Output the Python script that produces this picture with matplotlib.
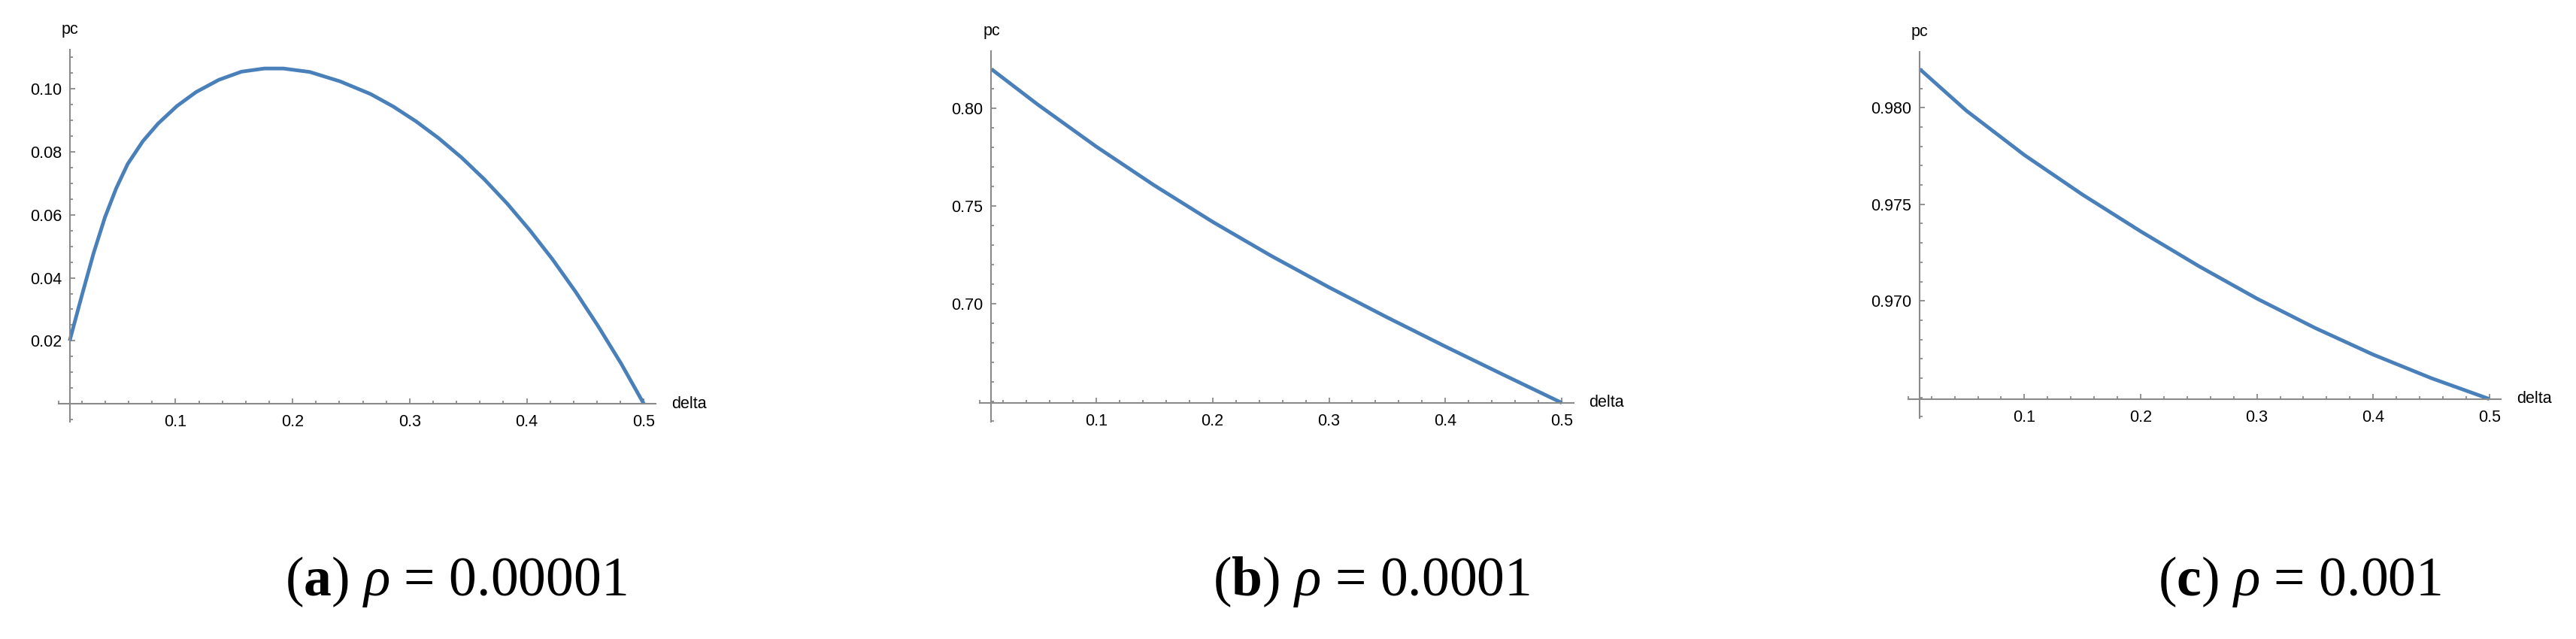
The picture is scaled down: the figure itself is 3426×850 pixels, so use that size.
import matplotlib.pyplot as plt

plt.rcParams['mathtext.fontset'] = 'custom'
plt.rcParams['mathtext.rm'] = 'Liberation Serif'
plt.rcParams['mathtext.it'] = 'Liberation Serif:italic'
plt.rcParams['mathtext.bf'] = 'Liberation Serif:bold'

# panel (a), rho = 0.00001
delta_a = [0.0096, 0.0203, 0.030, 0.0397, 0.0494, 0.0592, 0.0721, 0.0851, 0.1013,
           0.1175, 0.137, 0.1564, 0.1759, 0.1921, 0.2147, 0.2407, 0.2666, 0.2861,
           0.3055, 0.325, 0.3444, 0.3638, 0.3833, 0.4027, 0.4222, 0.4417, 0.4611,
           0.4806, 0.500]
pc_a = [0.0200, 0.0348, 0.0478, 0.0592, 0.0685, 0.0762, 0.0834, 0.0890, 0.0946,
        0.0990, 0.1029, 0.1055, 0.1065, 0.1065, 0.1054, 0.1024, 0.0984, 0.0944,
        0.0897, 0.0843, 0.0782, 0.0713, 0.0636, 0.0551, 0.0458, 0.0356, 0.0246,
        0.0128, 0.0000]

# panels (b) and (c)
delta_bc = [0.01, 0.05, 0.10, 0.15, 0.20, 0.25, 0.30, 0.35, 0.40, 0.45, 0.50]
pc_b = [0.8199, 0.8017, 0.7803, 0.7604, 0.7418, 0.7245, 0.7083, 0.6929, 0.6780,
        0.6635, 0.6492]
pc_c = [0.98200, 0.97985, 0.97755, 0.97550, 0.97360, 0.97180, 0.97012, 0.96860,
        0.96722, 0.96600, 0.96492]

xticks = [0.1, 0.2, 0.3, 0.4, 0.5]
xtick_labels = ['0.1', '0.2', '0.3', '0.4', '0.5']
yticks_a = [0.02, 0.04, 0.06, 0.08, 0.10]
ytick_labels_a = ['0.02', '0.04', '0.06', '0.08', '0.10']
yticks_b = [0.70, 0.75, 0.80]
ytick_labels_b = ['0.70', '0.75', '0.80']
yticks_c = [0.970, 0.975, 0.980]
ytick_labels_c = ['0.970', '0.975', '0.980']

captions = [r'($\mathbf{a}$) $\rho$ = 0.00001',
            r'($\mathbf{b}$) $\rho$ = 0.0001',
            r'($\mathbf{c}$) $\rho$ = 0.001']

W, H = 3426, 850
fig = plt.figure(figsize=(W / 100, H / 100), dpi=100)

LINE = '#4a80ba'
AXC = '#8a8a8a'
TF = 'Liberation Sans'

# pixel boxes: (left, right, top, bottom), y limits, minor steps
panels = [
    dict(box=(77.7, 871.8, 66, 561), ylim=(-0.0057, 0.1125), x=delta_a, y=pc_a,
         yt=yticks_a, ytl=ytick_labels_a, ystep=0.005, cx=606),
    dict(box=(1303, 2092.7, 67.7, 560.6), ylim=(0.6397, 0.8292), x=delta_bc, y=pc_b,
         yt=yticks_b, ytl=ytick_labels_b, ystep=0.01, cx=1824),
    dict(box=(2537.8, 3326.3, 69.3, 555.7), ylim=(0.96395, 0.98288), x=delta_bc, y=pc_c,
         yt=yticks_c, ytl=ytick_labels_c, ystep=0.001, cx=3059),
]

for p, cap in zip(panels, captions):
    l, r, t, b = p['box']
    ax = fig.add_axes([l / W, 1 - b / H, (r - l) / W, (b - t) / H])
    ax.plot(p['x'], p['y'], color=LINE, lw=3.5, solid_joinstyle='round',
            solid_capstyle='butt', clip_on=False)
    ax.set_xlim(0, 0.51)
    ax.set_ylim(*p['ylim'])

    y0 = min(p['y'])
    for s in ['top', 'right']:
        ax.spines[s].set_visible(False)
    ax.spines['left'].set_position(('data', 0.01))
    ax.spines['bottom'].set_position(('data', y0))
    for s in ['left', 'bottom']:
        ax.spines[s].set_color(AXC)
        ax.spines[s].set_linewidth(1.5)

    ax.set_xticks(xticks)
    ax.set_xticklabels(xtick_labels)
    ax.set_xticks([0.0] + [v / 50 for v in range(1, 26) if v % 5], minor=True)
    ax.set_yticks(p['yt'])
    ax.set_yticklabels(p['ytl'])
    lo, hi = p['ylim']
    st = p['ystep']
    k0 = int(lo / st) - 1
    minors = [k * st for k in range(k0, int(hi / st) + 2)
              if lo <= k * st <= hi and min(abs(k * st - m) for m in p['yt']) > st / 4]
    ax.set_yticks(minors, minor=True)

    ax.tick_params(which='both', direction='in', color=AXC, width=1.3,
                   labelsize=15.5, labelcolor='black')
    ax.tick_params(which='major', length=5)
    ax.tick_params(which='minor', length=3.2)
    ax.tick_params(axis='x', pad=10)
    ax.tick_params(axis='y', pad=8)
    for lab in ax.get_xticklabels() + ax.get_yticklabels():
        lab.set_fontfamily(TF)

    ax.annotate('pc', xy=(0.01, 1), xycoords=('data', 'axes fraction'),
                xytext=(0, 15), textcoords='offset points', ha='center',
                va='baseline', fontsize=15.5, family=TF)
    ax.annotate('delta', xy=(1, y0), xycoords=('axes fraction', 'data'),
                xytext=(15, 0), textcoords='offset points', ha='left',
                va='center', fontsize=15.5, family=TF)

    fig.text(p['cx'] / W, 1 - 792 / H, cap, ha='center', va='baseline',
             fontsize=53, family='Liberation Serif')

fig.savefig('out.png', dpi=100, facecolor='white')
